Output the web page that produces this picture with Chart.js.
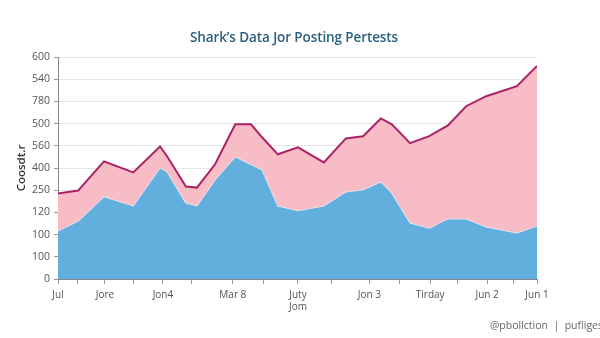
<!DOCTYPE html>
<html>
<head>
<meta charset="utf-8">
<script src="https://cdn.jsdelivr.net/npm/chart.js@4/dist/chart.umd.min.js"></script>
<style>
  html, body { margin: 0; padding: 0; background: #fff; overflow: hidden; }
  #wrap { position: relative; width: 600px; height: 338px; overflow: hidden; }
  #title {
    position: absolute; left: 0; width: 588px; top: 28px; text-align: center;
    font: 600 13.5px "Open Sans", sans-serif; color: #2b5f7e; letter-spacing: -0.1px;
  }
  #footer {
    position: absolute; right: -3px; top: 318px; white-space: nowrap;
    font: 10.5px "Open Sans", sans-serif; color: #666;
  }
</style>
</head>
<body>
<div id="wrap">
  <div id="title">Shark’s Data Jor Posting Pertests</div>
  <canvas id="myChart" width="600" height="338"></canvas>
  <div id="footer">@pbollction &nbsp;|&nbsp; pufliges</div>
</div>
<script>
// x positions of the points (0..100 along the time axis)
const xPos = [0, 4.2, 9.6, 15.7, 21.3, 22.8, 26.7, 29.0, 32.8, 37.0, 40.3, 42.6, 45.9,
              50.1, 55.5, 60.1, 63.7, 67.4, 69.7, 73.5, 77.5, 81.4, 85.2, 89.4, 95.8, 100];
// lower (blue) series
const blueValues = [130, 157, 223, 198, 301, 290, 206, 198, 269, 331, 310, 296, 198,
                    185, 198, 236, 242, 263, 233, 152, 138, 163, 163, 141, 125, 144];
// upper edge of the pink band (total)
const totalValues = [231, 239, 318, 288, 358, 331, 250, 247, 310, 418, 418, 383, 337,
                     356, 315, 380, 386, 434, 418, 367, 386, 415, 467, 494, 521, 576];

// y tick labels as printed, bottom to top
const yTickLabels = ['0', '100', '100', '120', '250', '400', '560', '500', '780', '540', '600'];
// x ticks
const xTickPos = [0, 4.0, 9.8, 15.7, 21.9, 27.8, 36.5, 43.0, 50.1, 57.2, 65.0, 71.2, 77.7, 83.5, 89.6, 95.0, 100];
const xTickLabels = ['Jul', '', 'Jore', '', 'Jon4', '', 'Mar 8', '', ['Juty', 'Jom'], '', 'Jon 3', '', 'Tirday', '', 'Jun 2', '', 'Jun 1'];

const blueData = xPos.map((x, i) => ({ x: x, y: blueValues[i] }));
const totalData = xPos.map((x, i) => ({ x: x, y: totalValues[i] }));

const tickFont = { family: '"Open Sans", sans-serif', size: 10 };

new Chart('myChart', {
  type: 'line',
  data: {
    datasets: [{
      label: 'Blue',
      data: blueData,
      fill: 'origin',
      backgroundColor: 'rgb(98,174,221)',
      borderColor: 'rgba(225,238,245,0.95)',
      borderWidth: 1.5,
      pointRadius: 0,
      lineTension: 0,
      order: 2
    }, {
      label: 'Total',
      data: totalData,
      fill: '-1',
      backgroundColor: 'rgb(248,188,198)',
      borderColor: 'rgb(172,32,102)',
      borderWidth: 2,
      pointRadius: 0,
      lineTension: 0,
      order: 1
    }]
  },
  options: {
    responsive: false,
    animation: false,
    layout: { padding: { left: 0, right: 63, top: 57, bottom: 0 } },
    plugins: {
      legend: { display: false },
      tooltip: { enabled: false },
      title: { display: false }
    },
    scales: {
      x: {
        type: 'linear',
        min: 0,
        max: 100,
        afterBuildTicks: function (scale) {
          scale.ticks = xTickPos.map(v => ({ value: v }));
        },
        afterFit: function (scale) { scale.height = 59; },
        ticks: {
          autoSkip: false,
          maxRotation: 0,
          color: '#555',
          font: tickFont,
          padding: 5,
          callback: function (value, index) { return xTickLabels[index]; }
        },
        grid: { display: true, drawOnChartArea: false, tickLength: 5, color: '#999' },
        border: { display: true, color: '#888' }
      },
      y: {
        min: 0,
        max: 600,
        afterFit: function (scale) { scale.width = 58; },
        ticks: {
          stepSize: 60,
          color: '#555',
          font: { family: '"Open Sans", sans-serif', size: 10.5 },
          padding: 4,
          callback: function (value, index) { return yTickLabels[index]; }
        },
        title: {
          display: true,
          text: 'Coosdt.r',
          color: '#333',
          font: { family: '"Open Sans", sans-serif', size: 11.5, weight: '600' },
          padding: { top: 15, bottom: 0 }
        },
        grid: { color: '#e6e6e6', tickLength: 4, tickColor: '#999' },
        border: { display: true, color: '#888' }
      }
    }
  }
});
</script>
</body>
</html>
